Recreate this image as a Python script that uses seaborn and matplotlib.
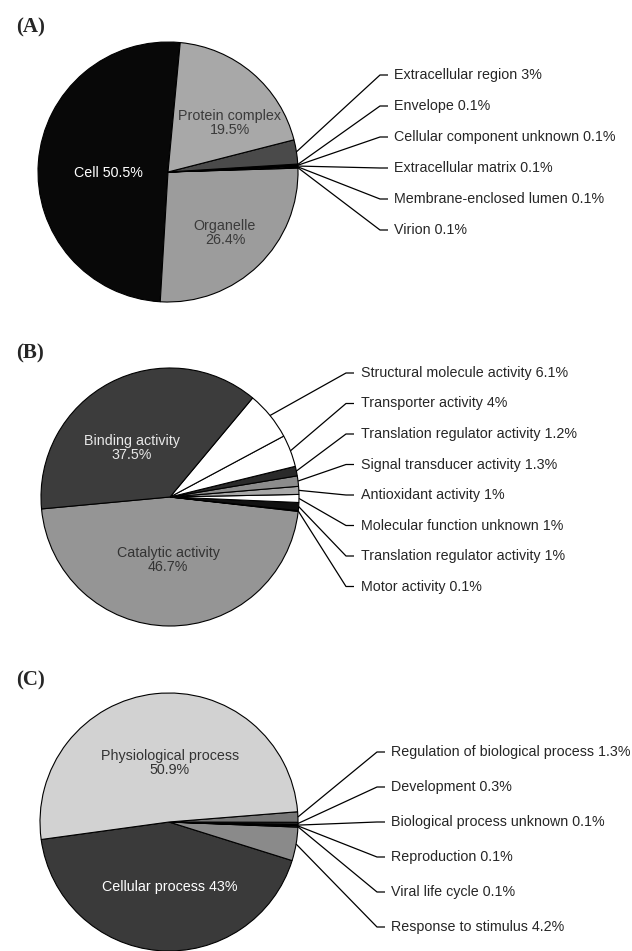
import numpy as np
import seaborn as sns
import matplotlib.pyplot as plt

# -------------------------------
# Data
# -------------------------------
# (A) cellular component, counter-clockwise order from the start angle
a_labels = ["Cell", "Organelle", "Virion", "Membrane-enclosed lumen",
            "Extracellular matrix", "Cellular component unknown",
            "Envelope", "Extracellular region", "Protein complex"]
a_values = [50.5, 26.4, 0.1, 0.1, 0.1, 0.1, 0.1, 3, 19.5]
a_colors = ["#080808", "#9c9c9c", "#8a8a8a", "#ffffff", "#ffffff",
            "#333333", "#000000", "#4a4a4a", "#a8a8a8"]

# (B) molecular function
b_labels = ["Catalytic activity", "Motor activity",
            "Translation regulator activity", "Molecular function unknown",
            "Antioxidant activity", "Signal transducer activity",
            "Translation regulator activity", "Transporter activity",
            "Structural molecule activity", "Binding activity"]
b_values = [46.7, 0.1, 1, 1, 1, 1.3, 1.2, 4, 6.1, 37.5]
b_colors = ["#959595", "#000000", "#111111", "#ffffff", "#a8a8a8",
            "#8c8c8c", "#2a2a2a", "#ffffff", "#ffffff", "#3c3c3c"]

# (C) biological process
c_labels = ["Cellular process", "Response to stimulus", "Viral life cycle",
            "Reproduction", "Biological process unknown", "Development",
            "Regulation of biological process", "Physiological process"]
c_values = [43, 4.2, 0.1, 0.1, 0.1, 0.3, 1.3, 50.9]
c_colors = ["#3a3a3a", "#8a8a8a", "#555555", "#ffffff", "#000000",
            "#222222", "#777777", "#d2d2d2"]

# -------------------------------
# Layout (pixel units, y measured from the top)
# -------------------------------
W, H = 632, 951
panels = [
    dict(tag="(A)", tag_y=27, labels=a_labels, values=a_values, colors=a_colors,
         center=(168, 172), radius=130, start=84.6,
         callouts=list(range(7, 1, -1)), lab_y0=75, lab_dy=31,
         elbow_x=380, text_x=394,
         inner=[(0, "Cell 50.5%", 108, 173, "white"),
                (8, "Protein complex\n19.5%", 230, 123, "#3a3a3a"),
                (1, "Organelle\n26.4%", 225, 233, "#3a3a3a")]),
    dict(tag="(B)", tag_y=353, labels=b_labels, values=b_values, colors=b_colors,
         center=(170, 497), radius=129, start=185.3,
         callouts=list(range(8, 0, -1)), lab_y0=373, lab_dy=30.5,
         elbow_x=346, text_x=361,
         inner=[(9, "Binding activity\n37.5%", 132, 448, "#e8e8e8"),
                (0, "Catalytic activity\n46.7%", 168, 560, "#333333")]),
    dict(tag="(C)", tag_y=680, labels=c_labels, values=c_values, colors=c_colors,
         center=(169, 822), radius=129, start=187.8,
         callouts=list(range(6, 0, -1)), lab_y0=752, lab_dy=35,
         elbow_x=377, text_x=391,
         inner=[(7, "Physiological process\n50.9%", 170, 763, "#333333"),
                (0, "Cellular process 43%", 170, 887, "white")]),
]


def Y(y):
    return H - y


# -------------------------------
# Plot
# -------------------------------
sns.set_theme(style="white")
plt.rcParams['font.family'] = ['Liberation Sans', 'DejaVu Sans']

fig = plt.figure(figsize=(W / 100, H / 100), dpi=100)
ax = fig.add_axes([0, 0, 1, 1])

for p in panels:
    cx, cy = p["center"]
    r = p["radius"]
    wedges, _ = ax.pie(p["values"], colors=p["colors"], startangle=p["start"],
                       counterclock=True, center=(cx, Y(cy)), radius=r,
                       frame=True,
                       wedgeprops=dict(edgecolor="black", linewidth=0.8))

    # panel tag
    ax.text(16, Y(p["tag_y"]), p["tag"], fontsize=15, fontweight="bold",
            family=["Liberation Serif", "DejaVu Serif"], va="center", ha="left")

    # labels inside big slices
    for _, txt, tx, ty, col in p["inner"]:
        ax.text(tx, Y(ty), txt, ha="center", va="center", color=col,
                fontsize=10.3, linespacing=1.0)

    # leader lines for the remaining slices
    for k, idx in enumerate(p["callouts"]):
        w = wedges[idx]
        mid = np.deg2rad((w.theta1 + w.theta2) / 2)
        sx = cx + r * np.cos(mid)
        sy = Y(cy) + r * np.sin(mid)
        ly = Y(p["lab_y0"] + k * p["lab_dy"])
        ex = p["elbow_x"]
        ax.plot([sx, ex, ex + 8], [sy, ly, ly], color="black", lw=0.9,
                solid_capstyle="butt")
        ax.text(p["text_x"], ly, f"{p['labels'][idx]} {p['values'][idx]:g}%",
                ha="left", va="center", fontsize=10.3)

ax.set_xlim(0, W)
ax.set_ylim(0, H)
ax.set_aspect("equal")
ax.axis("off")

fig.savefig("out.png", dpi=100, facecolor="white")
plt.close(fig)
